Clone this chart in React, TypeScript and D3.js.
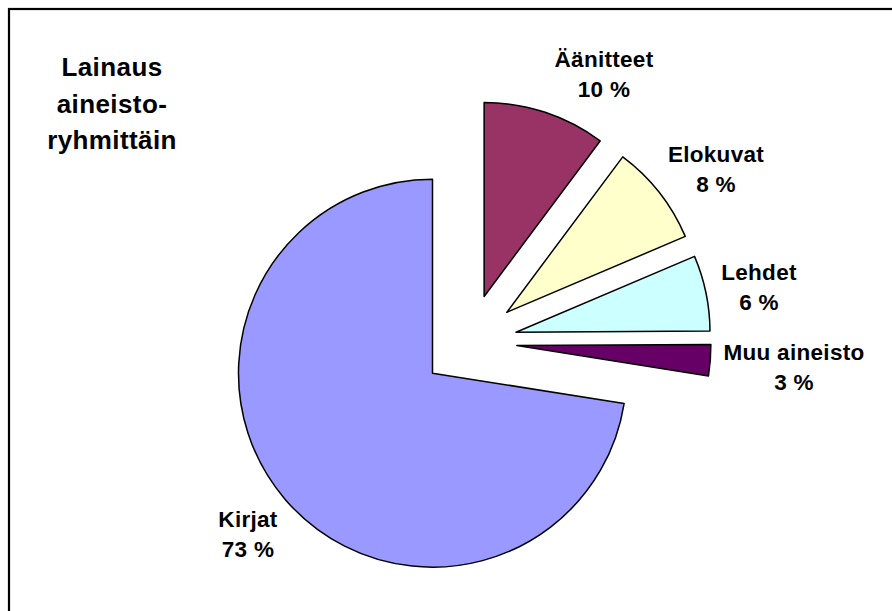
import { useMemo } from 'react';
import * as d3 from 'd3';

const WIDTH = 892;
const HEIGHT = 611;

const categories = ['Äänitteet', 'Elokuvat', 'Lehdet', 'Muu aineisto', 'Kirjat'];
const shares = [10.2, 8.4, 6.3, 2.6, 72.5];
const colors = ['#993366', '#FFFFCC', '#CCFFFF', '#660066', '#9999FF'];
const titleLines = ['Lainaus', 'aineisto-', 'ryhmittäin'];

// where Excel put each label (centre x, first baseline y)
const labelPos: [number, number][] = [
  [604, 67],
  [716, 162],
  [759, 280],
  [794, 360],
  [248, 527],
];

const center = { x: 469, y: 342 };
const radius = 194;
const explode = 48;

export default function App() {
  const slices = useMemo(
    () =>
      d3
        .pie<number>()
        .sort(null)
        .startAngle(0)
        .endAngle(2 * Math.PI)
        .value((d) => d)(shares),
    []
  );

  const arc = d3.arc<d3.PieArcDatum<number>>().innerRadius(0).outerRadius(radius);

  return (
    <svg
      width={WIDTH}
      height={HEIGHT}
      viewBox={`0 0 ${WIDTH} ${HEIGHT}`}
      style={{ position: 'fixed', left: 0, top: 0, background: '#fff' }}
      fontFamily="'Liberation Sans', Arial, sans-serif"
    >
      <rect x={9} y={9} width={WIDTH + 20} height={HEIGHT + 20} fill="#fff" stroke="#000" strokeWidth={2.2} />

      <g transform={`translate(${center.x},${center.y})`}>
        {slices.map((s, i) => {
          const mid = (s.startAngle + s.endAngle) / 2;
          const dx = explode * Math.sin(mid);
          const dy = -explode * Math.cos(mid);
          return (
            <path
              key={categories[i]}
              d={arc(s) ?? ''}
              transform={`translate(${dx},${dy})`}
              fill={colors[i]}
              stroke="#000"
              strokeWidth={1.5}
              strokeLinejoin="round"
            />
          );
        })}
      </g>

      {categories.map((c, i) => (
        <text
          key={c}
          x={labelPos[i][0]}
          y={labelPos[i][1]}
          textAnchor="middle"
          fontSize={22.5}
          fontWeight={700}
          letterSpacing={0.3}
          fill="#000"
        >
          <tspan x={labelPos[i][0]}>{c}</tspan>
          <tspan x={labelPos[i][0]} dy={30}>
            {Math.round(shares[i])} %
          </tspan>
        </text>
      ))}

      <text x={112} y={76} textAnchor="middle" fontSize={26} fontWeight={700} letterSpacing={0.4} fill="#000">
        {titleLines.map((t, i) => (
          <tspan key={t} x={112} dy={i === 0 ? 0 : 36.5}>
            {t}
          </tspan>
        ))}
      </text>
    </svg>
  );
}
